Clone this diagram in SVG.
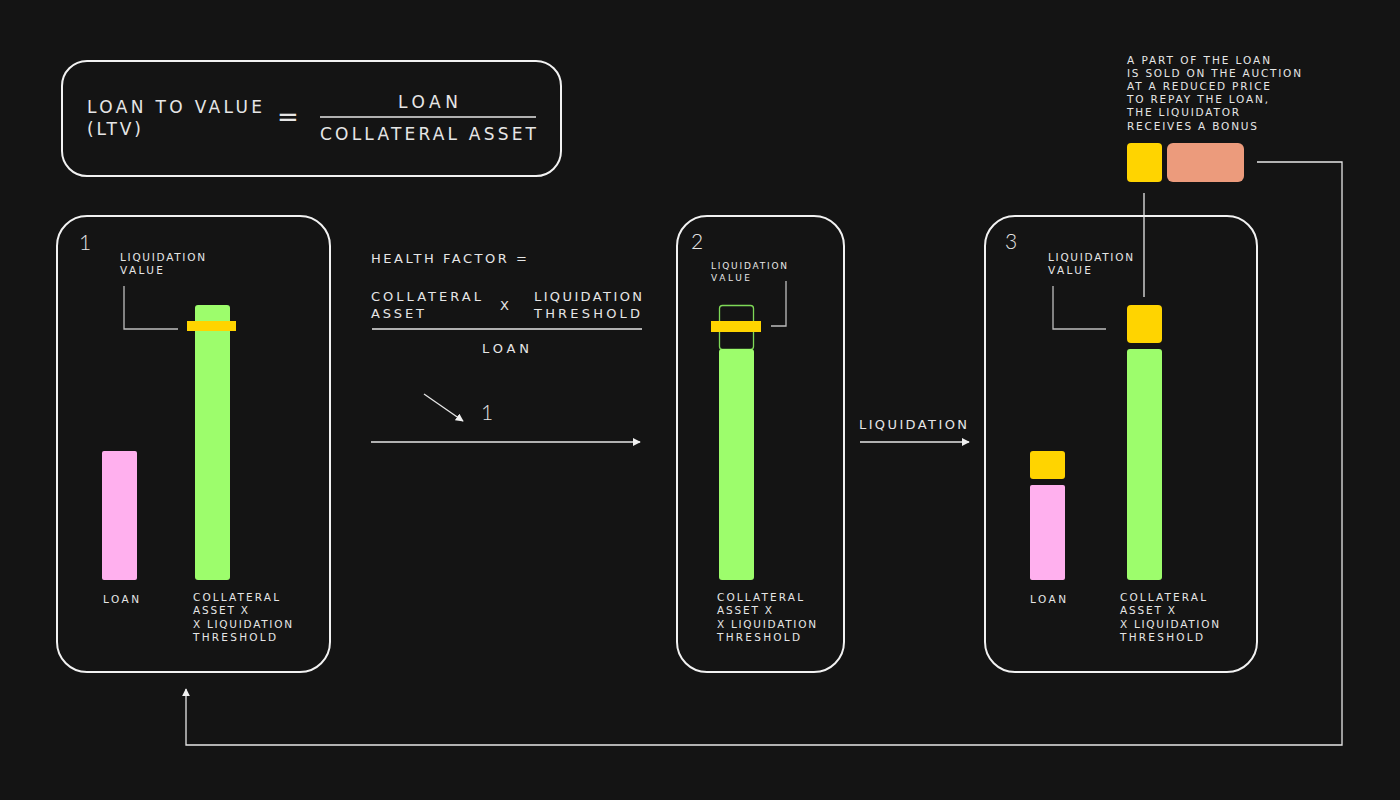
<svg xmlns="http://www.w3.org/2000/svg" width="1400" height="800" viewBox="0 0 1400 800">
<defs>
<style>
.bg{fill:#141414}
.box{fill:none;stroke:#f2f2f2;stroke-width:2}
.t{font-family:"DejaVu Sans","Liberation Sans",Arial,sans-serif;fill:#e6e6e6}
.s{font-size:10.5px}
.m{font-size:13px}
.l{font-size:17px}
.num{font-family:Lato,"Liberation Sans",sans-serif;font-weight:300;font-size:21px;fill:#e6e6e6}
.ln{fill:none;stroke:#e6e6e6;stroke-width:1.3}
.br{fill:none;stroke:#bdbdbd;stroke-width:1.3}
.green{fill:#9dfd6c}
.yellow{fill:#ffd400}
.pink{fill:#ffb0ee}
.salmon{fill:#ec9b7c}
</style>
<marker id="ah" viewBox="0 0 10 10" refX="9" refY="5" markerWidth="8" markerHeight="8" markerUnits="userSpaceOnUse" orient="auto">
<path d="M0,0 L10,5 L0,10 z" fill="#f0f0f0"/>
</marker>
</defs>
<rect class="bg" x="0" y="0" width="1400" height="800"/>

<g id="ltv">
<rect class="box" x="62" y="61" width="499" height="115" rx="25"/>
<text class="t l" x="87" y="113" textLength="175">LOAN TO VALUE</text>
<text class="t l" x="87" y="135" textLength="54">(LTV)</text>
<text class="t" x="277" y="126" font-size="26">=</text>
<text class="t l" x="398" y="108" textLength="60">LOAN</text>
<line class="ln" x1="320" y1="117" x2="536" y2="117"/>
<text class="t l" x="320" y="140" textLength="216">COLLATERAL ASSET</text>
</g>

<g id="state1">
<rect class="box" x="57" y="216" width="273" height="456" rx="30"/>
<text class="num" x="79" y="250">1</text>
<text class="t s" x="120" y="261" textLength="85">LIQUIDATION</text>
<text class="t s" x="120" y="274" textLength="43">VALUE</text>
<polyline class="br" points="124,286 124,329 178,329"/>
<rect class="pink" x="102" y="451" width="35" height="129" rx="2"/>
<rect class="green" x="195" y="305" width="35" height="275" rx="3"/>
<rect class="yellow" x="187" y="321" width="49" height="10"/>
<text class="t s" x="103" y="603" textLength="36">LOAN</text>
<text class="t s" x="193" y="601" textLength="86">COLLATERAL</text>
<text class="t s" x="193" y="614" textLength="55">ASSET X</text>
<text class="t s" x="193" y="628" textLength="99">X LIQUIDATION</text>
<text class="t s" x="193" y="641" textLength="83">THRESHOLD</text>
</g>

<g id="health-factor">
<text class="t m" x="371" y="263" textLength="156">HEALTH FACTOR =</text>
<text class="t m" x="371" y="301" textLength="110">COLLATERAL</text>
<text class="t m" x="371" y="318" textLength="53">ASSET</text>
<text class="t" font-size="13" x="500" y="310" fill="#dcdcdc">X</text>
<text class="t m" x="534" y="301" textLength="108">LIQUIDATION</text>
<text class="t m" x="534" y="318" textLength="106">THRESHOLD</text>
<line class="ln" x1="372" y1="329" x2="642" y2="329"/>
<text class="t m" x="482" y="353" textLength="47">LOAN</text>
<text class="num" x="481" y="420">1</text>
</g>

<g id="state2">
<rect class="box" x="677" y="216" width="167" height="456" rx="30"/>
<text class="num" x="691" y="249">2</text>
<text class="t" font-size="9" x="711" y="269" textLength="76">LIQUIDATION</text>
<text class="t" font-size="9" x="711" y="281" textLength="39">VALUE</text>
<polyline class="br" points="786,281 786,326 771,326"/>
<rect x="719.5" y="305.5" width="34" height="44" rx="3" fill="none" stroke="#7ed957" stroke-width="1.3"/>
<rect class="green" x="719" y="349" width="35" height="231" rx="3"/>
<rect class="yellow" x="711" y="321" width="50" height="11"/>
<text class="t s" x="717" y="601" textLength="86">COLLATERAL</text>
<text class="t s" x="717" y="614" textLength="55">ASSET X</text>
<text class="t s" x="717" y="628" textLength="99">X LIQUIDATION</text>
<text class="t s" x="717" y="641" textLength="83">THRESHOLD</text>
</g>

<g id="state3">
<rect class="box" x="985" y="216" width="272" height="456" rx="30"/>
<text class="num" x="1005" y="249">3</text>
<text class="t s" x="1048" y="261" textLength="85">LIQUIDATION</text>
<text class="t s" x="1048" y="274" textLength="43">VALUE</text>
<polyline class="br" points="1053,286 1053,329 1106,329"/>
<rect class="yellow" x="1127" y="305" width="35" height="38" rx="4"/>
<rect class="green" x="1127" y="349" width="35" height="231" rx="3"/>
<rect class="yellow" x="1030" y="451" width="35" height="28" rx="3"/>
<rect class="pink" x="1030" y="485" width="35" height="95" rx="2"/>
<text class="t s" x="1030" y="603" textLength="36">LOAN</text>
<text class="t s" x="1120" y="601" textLength="86">COLLATERAL</text>
<text class="t s" x="1120" y="614" textLength="55">ASSET X</text>
<text class="t s" x="1120" y="628" textLength="99">X LIQUIDATION</text>
<text class="t s" x="1120" y="641" textLength="83">THRESHOLD</text>
</g>

<g id="auction">
<text class="t s" x="1127" y="64" textLength="143">A PART OF THE LOAN</text>
<text class="t s" x="1127" y="77" textLength="174">IS SOLD ON THE AUCTION</text>
<text class="t s" x="1127" y="90" textLength="143">AT A REDUCED PRICE</text>
<text class="t s" x="1127" y="103" textLength="141">TO REPAY THE LOAN,</text>
<text class="t s" x="1127" y="116" textLength="112">THE LIQUIDATOR</text>
<text class="t s" x="1127" y="130" textLength="130">RECEIVES A BONUS</text>
<rect class="yellow" x="1127" y="143" width="35" height="39" rx="4"/>
<rect class="salmon" x="1167" y="143" width="77" height="39" rx="6"/>
</g>

<g id="connectors">
<line class="ln" x1="1144" y1="193" x2="1144" y2="297"/>
<line class="ln" x1="424" y1="394" x2="463" y2="421" marker-end="url(#ah)"/>
<line class="ln" x1="371" y1="442" x2="640" y2="442" marker-end="url(#ah)"/>
<text class="t m" x="859" y="429" textLength="108">LIQUIDATION</text>
<line class="ln" x1="860" y1="442" x2="969" y2="442" marker-end="url(#ah)"/>
<polyline class="ln" points="1257,162 1342,162 1342,745 186,745 186,689" marker-end="url(#ah)"/>
</g>
</svg>
